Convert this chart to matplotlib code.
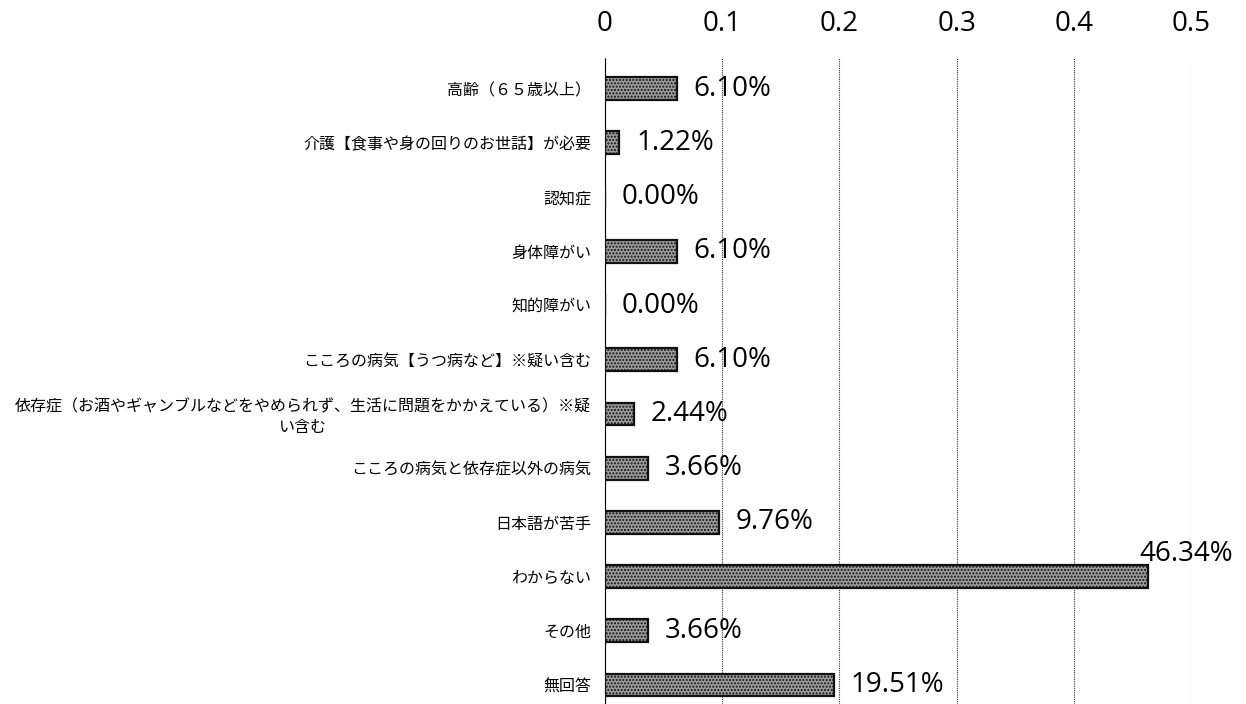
import numpy as np
import matplotlib.pyplot as plt

plt.rcParams['font.family'] = ['Noto Sans CJK JP', 'DejaVu Sans']

# categories, top to bottom
labels = ['高齢（６５歳以上）',
          '介護【食事や身の回りのお世話】が必要',
          '認知症',
          '身体障がい',
          '知的障がい',
          'こころの病気【うつ病など】※疑い含む',
          '依存症（お酒やギャンブルなどをやめられず、生活に問題をかかえている）※疑\nい含む',
          'こころの病気と依存症以外の病気',
          '日本語が苦手',
          'わからない',
          'その他',
          '無回答']
values = [0.0610, 0.0122, 0.0, 0.0610, 0.0, 0.0610, 0.0244, 0.0366, 0.0976, 0.4634, 0.0366, 0.1951]
ticks = [0, 0.1, 0.2, 0.3, 0.4, 0.5]

fig = plt.figure(figsize=(12.46, 7.04), dpi=100)
ax = fig.add_axes([0.4856, 0.0, 0.4703, 0.918])

y = np.arange(len(labels))
ax.barh(y, values, height=0.42, color='#9c9c9c', edgecolor='#111111',
        linewidth=1.6, hatch='.....', zorder=3)

# value labels
for i, v in enumerate(values):
    txt = '%.2f%%' % (v * 100)
    if v > 0.4:
        ax.annotate(txt, (v, i), xytext=(-6, 16), textcoords='offset points',
                    ha='left', va='center', fontsize=20, family='Open Sans',
                    annotation_clip=False)
    else:
        ax.annotate(txt, (v, i), xytext=(12, 0), textcoords='offset points',
                    ha='left', va='center', fontsize=20, family='Open Sans')

ax.set_xlim(0, 0.5)
ax.set_ylim(len(labels) - 1 + 0.35, -0.57)
ax.xaxis.tick_top()
ax.set_xticks(ticks)
ax.set_xticklabels(['0', '0.1', '0.2', '0.3', '0.4', '0.5'], fontsize=20, family='Open Sans')
ax.tick_params(axis='x', length=0, pad=14)
ax.set_yticks(y)
ax.set_yticklabels(labels, fontsize=11.5)
ax.tick_params(axis='y', length=0, pad=10)
for t in ax.get_yticklabels():
    t.set_multialignment('center')

ax.grid(axis='x', color='#333333', linestyle=(0, (1, 1)), linewidth=0.8, zorder=0)
for s in ['top', 'right', 'bottom']:
    ax.spines[s].set_visible(False)
ax.spines['left'].set_linestyle((0, (1, 1)))
ax.spines['left'].set_linewidth(0.8)

fig.savefig('out.png', dpi=100)
